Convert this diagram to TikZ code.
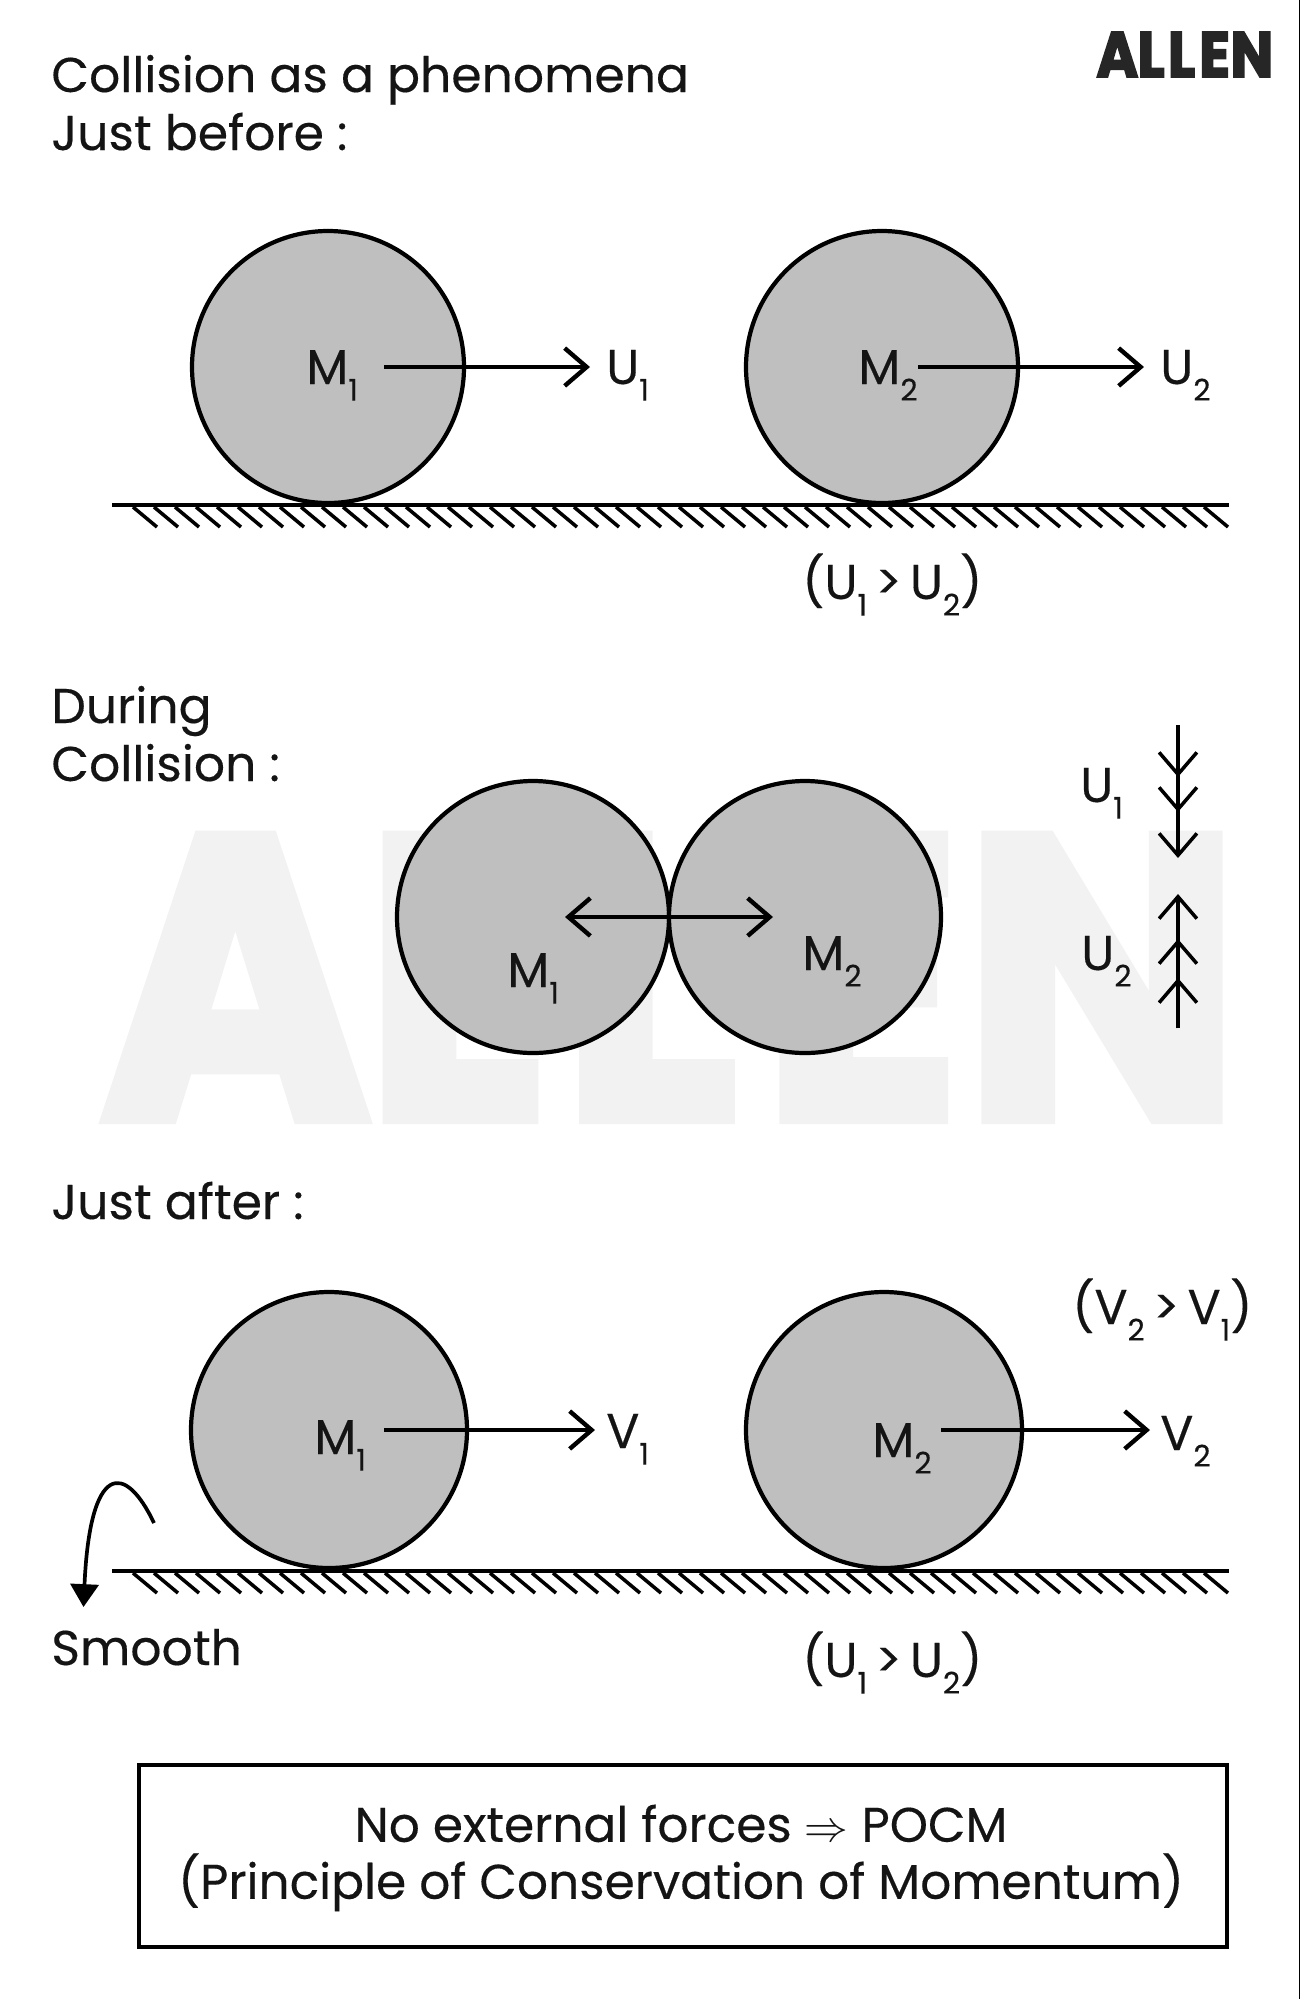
\documentclass[tikz,border=0pt]{standalone}
\usepackage{fontspec}
\usepackage{graphicx}
\usetikzlibrary{arrows.meta}
\setmainfont[FakeBold=0.3]{Poppins}
\newfontfamily\logofont[FakeBold=3]{Poppins}
\newcommand{\lowidx}[1]{\raisebox{-0.34em}{\fontsize{17}{17}\selectfont #1}}
\newcommand{\allenword}{\logofont\bfseries A\kern-0.15pt L\kern0.6pt L\kern0.7pt E\kern0.1pt N}
\newcommand{\gtgap}{\hspace{0.17em}>\hspace{0.17em}}

\begin{document}
\begin{tikzpicture}[%
            x=0.02cm,
            y=-0.02cm,
            >={Straight Barb[length=12.5pt,width=21.5pt]},
            txt/.style={anchor=base west,inner sep=0pt,font=\fontsize{27.8}{32}\selectfont,text=black!92},
            ball/.style={circle,draw,fill=black!25,line width=2.4pt,inner sep=0pt,minimum size=#1},
            ball/.default=272*0.02cm,
            vel/.style={->,line width=2.5pt},
            tick/.style={->,line width=2pt},
            floor/.style={line width=2.5pt},
            hatch/.style={line width=2pt}
            ]
            \useasboundingbox (0,0) rectangle (1300,1999);

            % watermark and logo
            \node[anchor=base west,inner sep=0pt,text=black!5] (mark) at (100,1118) {\resizebox{648pt}{160pt}{\allenword}};
            \node[anchor=base west,inner sep=0pt,text=black!85] (logo) at (1096,77) {\resizebox{100.7pt}{25.6pt}{\allenword}};
            \draw[line width=0.6pt] (1299.5,0) coordinate (rimtop) -- (1299.5,1999) coordinate (rimend);

            \node[txt] (title) at (51,92) {Collision as a phenomena};
            \node[txt] (before) at (51,150) {Just before :};
            \node[txt] (during) at (51,723) {During};
            \node[txt] (coll) at (51,781) {Collision :};
            \node[txt] (after) at (51,1219) {Just after :};
            \node[txt] (smooth) at (51,1665) {Smooth};

            % just before
            \node[ball] (a1) at (328,367) {};
            \node[ball] (a2) at (882,367) {};
            \draw[floor] (112,505) coordinate (f1) -- (1229,505) coordinate (f2);
            \foreach \i in {0,...,51} {
                \draw[hatch] (133+\i*21,507) -- ++(24,20);
            }
            \node[txt] (am1) at (306,384) {M\lowidx{1}};
            \node[txt] (am2) at (858,384) {M\lowidx{2}};
            \node[txt] (au1) at (606,384) {U\lowidx{1}};
            \node[txt] (au2) at (1160,384) {U\lowidx{2}};
            \coordinate (as1) at (384,367);
            \coordinate (ae1) at (590,367);
            \coordinate (as2) at (918,367);
            \coordinate (ae2) at (1144,367);
            \draw[vel] (as1) -- (ae1);
            \draw[vel] (as2) -- (ae2);
            \node[txt] (acmp) at (802,599) {(U\lowidx{1}\gtgap U\lowidx{2})};

            % during
            \node[ball] (b1) at (533,917) {};
            \node[ball] (b2) at (805,917) {};
            \coordinate (bl) at (565,917);
            \coordinate (br) at (773,917);
            \draw[vel,<->] (bl) -- (br);
            \node[txt] (bm1) at (507,987) {M\lowidx{1}};
            \node[txt] (bm2) at (802,970) {M\lowidx{2}};
            \node[txt] (bu1) at (1080,802) {U\lowidx{1}};
            \node[txt] (bu2) at (1081,970) {U\lowidx{2}};

            \coordinate (dtop) at (1178,725);
            \coordinate (dup) at (1178,1028);
            \foreach \y in {777,812,858} {
                \draw[tick] (dtop) -- (1178,\y);
            }
            \foreach \y in {978,939,894} {
                \draw[tick] (dup) -- (1178,\y);
            }

            % just after
            \node[ball=276*0.02cm] (c1) at (329,1430) {};
            \node[ball=276*0.02cm] (c2) at (884,1430) {};
            \draw[floor] (112,1571) coordinate (g1) -- (1229,1571) coordinate (g2);
            \foreach \i in {0,...,51} {
                \draw[hatch] (133+\i*21,1573) -- ++(24,20);
            }
            \node[txt] (cm1) at (314,1454) {M\lowidx{1}};
            \node[txt] (cm2) at (872,1457) {M\lowidx{2}};
            \node[txt] (cv1) at (606,1448) {V\lowidx{1}};
            \node[txt] (cv2) at (1160,1450) {V\lowidx{2}};
            \coordinate (cs1) at (384,1430);
            \coordinate (ce1) at (595,1430);
            \coordinate (cs2) at (941,1430);
            \coordinate (ce2) at (1150,1430);
            \draw[vel] (cs1) -- (ce1);
            \draw[vel] (cs2) -- (ce2);
            \node[txt] (ccmp) at (1072,1324) {(V\lowidx{2}\gtgap V\lowidx{1})};
            \node[txt] (dcmp) at (802,1677) {(U\lowidx{1}\gtgap U\lowidx{2})};

            \coordinate (bend) at (154,1523);
            \coordinate (drop) at (83.5,1607);
            \draw[line width=2.1pt,-{Triangle[length=13pt,width=16pt]}] (bend) .. controls (125,1462) and (90,1462) .. (drop);

            % principle box
            \node[draw,line width=2.2pt,inner sep=0pt,minimum width=1088*0.02cm,minimum height=182*0.02cm] (pocm) at (683,1856) {};
            \node[align=center,inner sep=0pt,font=\fontsize{27.7}{32.4}\selectfont,text=black!92] (pocmtxt) at (681,1858)
                {No external forces $\Rightarrow$ POCM\\(Principle of Conservation of Momentum)};

        \end{tikzpicture}
\end{document}
